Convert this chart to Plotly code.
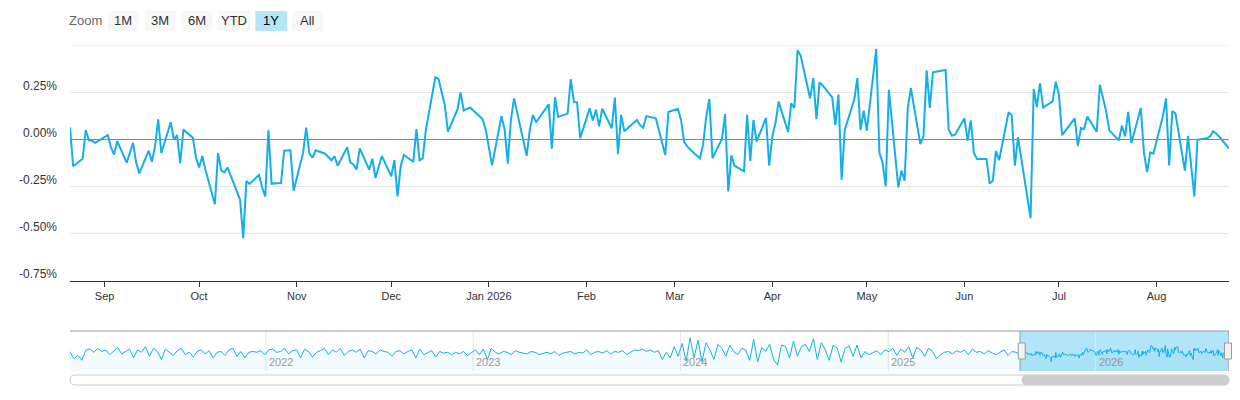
import pandas as pd
import plotly.graph_objects as go
from pandas.tseries.holiday import USFederalHolidayCalendar
from pandas.tseries.offsets import CustomBusinessDay

daily_change = [
    0.062, -0.145, -0.105, 0.048, -0.007, -0.009, -0.020, 0.021, -0.043, -0.083,
    -0.011, -0.126, -0.074, -0.020, -0.124, -0.183, -0.062, -0.121, -0.039, 0.105,
    -0.074, 0.089, -0.004, 0.021, -0.129, 0.050, 0.007, -0.099, -0.151, -0.090,
    -0.163, -0.347, -0.074, -0.167, -0.177, -0.151, -0.322, -0.527, -0.223, -0.239,
    -0.191, -0.257, -0.305, 0.046, -0.237, -0.234, -0.062, -0.060, -0.060, -0.275,
    -0.074, 0.060, -0.076, -0.099, -0.060, -0.078, -0.113, -0.092, -0.142, -0.043,
    -0.124, -0.135, -0.163, -0.050,
    -0.163, -0.105, -0.207, -0.090, -0.198, -0.112, -0.305, -0.145, -0.085, -0.121,
    0.053, -0.113, -0.103, 0.050, 0.328, 0.319, 0.250, 0.181, 0.039, 0.156,
    0.248, 0.152, 0.168, 0.121, 0.106, 0.050, -0.140, 0.121, 0.050, -0.131,
    0.103, 0.216, -0.004, -0.089, 0.050, 0.128, 0.089, 0.184, -0.051, 0.222,
    0.117, 0.135, 0.319, 0.197, 0.195, 0.005, 0.163, 0.099, 0.156, 0.067,
    0.161, 0.057, 0.220, -0.081, 0.129, 0.041, 0.101, 0.074, 0.060, 0.122,
    0.110, 0.046, -0.012,
    -0.085, 0.144, 0.161, 0.103, -0.016, -0.039, -0.057, -0.103, -0.030, 0.117,
    0.213, -0.101, 0.000, 0.133, -0.278, -0.087, -0.142, -0.172, 0.129, -0.117,
    0.101, -0.014, 0.112, -0.142, 0.014, 0.085, 0.199, 0.037, 0.190, 0.165,
    0.472, 0.443, 0.216, 0.324, 0.106, 0.301, 0.285, 0.222, 0.074, 0.236,
    -0.216, 0.050, 0.209, 0.324, 0.048, 0.151, 0.044, 0.479, -0.074, -0.124,
    -0.252, 0.262, -0.257, -0.168, -0.222, 0.165, 0.270, -0.027, 0.014, 0.365,
    0.165, 0.355, 0.367,
    0.050, 0.018, 0.023, 0.110, -0.009, 0.099, -0.074, -0.106, -0.106, -0.237,
    -0.222, -0.064, -0.113, 0.142, 0.126, -0.142, 0.009, -0.420, 0.266, 0.170,
    0.296, 0.167, 0.200, 0.305, 0.236, 0.021, 0.110, -0.037, 0.058, 0.053,
    0.119, 0.039, 0.289, 0.213, 0.147, 0.046, -0.007, 0.071, 0.014, 0.145,
    -0.021, 0.165, -0.074, -0.176, -0.071, -0.078, 0.121, 0.216, -0.140, 0.149,
    0.135, -0.168, 0.016, -0.145, -0.305, -0.004, 0.004, 0.014, 0.041, 0.028,
    0.011, -0.051,
]
trading_day = CustomBusinessDay(calendar=USFederalHolidayCalendar())
dates = pd.date_range("2025-08-21", periods=len(daily_change), freq=trading_day)

# weekly history shown only in the navigator (Jan 2021 - Aug 2025)
hist_change = [
    0.10, -0.35, -0.15, -0.45, 0.20, 0.25, 0.05, 0.30, 0.10, 0.20, -0.10, 0.15, 0.35, -0.05, 0.10, 0.25,
    -0.30, 0.20, 0.05, 0.40, -0.20, 0.30, 0.10, -0.40, 0.25, 0.05, -0.15, 0.15, 0.30, -0.10, 0.05, -0.25,
    0.10, 0.20, -0.05, 0.15, -0.30, 0.05, 0.10, -0.15, 0.20, 0.30, -0.20, 0.10, -0.30, 0.05,
    0.10, 0.05, 0.15, -0.10, 0.20, 0.25, 0.05, 0.10, 0.30, -0.05, 0.15, 0.20, -0.30, 0.25, 0.10, -0.25,
    0.05, 0.15, 0.30, -0.10, 0.20, 0.05, 0.30, -0.15, 0.10, 0.20, 0.05, 0.25, -0.30, 0.15, 0.10, -0.05,
    0.20, 0.10, 0.05, -0.20, 0.10, 0.15, -0.05, 0.10, 0.20, -0.30, 0.25, -0.10, 0.05, 0.15, -0.25, 0.10,
    0.00, 0.05, -0.10, 0.05,
    -0.05, 0.10, -0.15, 0.05, 0.20, -0.10, 0.25, -0.40, 0.30, 0.05, -0.05, 0.10, 0.05, -0.10, 0.15, 0.05,
    0.00, -0.05, 0.10, 0.05, -0.10, 0.00, 0.05, -0.05, 0.10, -0.15, 0.00, 0.05, 0.10, -0.05, 0.05, 0.00,
    0.20, -0.10, 0.05, 0.10, 0.00, 0.15, -0.05, 0.10, 0.05, 0.15, -0.10, 0.05, 0.20, 0.15, 0.25, 0.10,
    0.20, 0.05, 0.15, -0.40,
    0.05, -0.30, 0.40, -0.20, 0.60, -0.50, 0.95, -0.30, 0.80, -0.55, 0.65, 0.20, -0.40, 0.55, 0.30, -0.20,
    0.50, 0.10, -0.10, 0.30, 0.20, -0.45, 0.85, -0.55, 0.35, 0.10, 0.55, -0.40, -0.75, 0.50, 0.40, -0.30,
    0.75, -0.20, 0.40, 0.55, 0.10, 0.90, -0.40, 0.65, 0.20, -0.45, 0.50, 0.30, -0.55, 0.30, 0.45, -0.20,
    0.50, -0.30, 0.10, -0.10,
    0.05, 0.15, -0.10, 0.20, 0.10, 0.30, -0.15, 0.25, 0.05, 0.40, -0.30, 0.35, 0.20, -0.20, 0.30, 0.10,
    -0.35, -0.10, 0.05, 0.10, -0.05, 0.15, 0.05, 0.20, -0.10, 0.25, 0.05, 0.10, -0.05, 0.15, 0.00, -0.10,
    0.05, 0.20, -0.15, 0.10, 0.05, -0.05,
]
hist_dates = pd.date_range("2021-01-21", periods=len(hist_change), freq="7D")

month_ticks = pd.date_range("2025-09-01", "2026-08-01", freq="MS")
month_labels = [d.strftime("%b") if d.month != 1 else d.strftime("%b %Y") for d in month_ticks]
y_ticks = [-0.75, -0.5, -0.25, 0, 0.25, 0.5]
y_labels = ["-0.75%", "-0.50%", "-0.25%", "0.00%", "0.25%", ""]
nav_years = [2022, 2023, 2024, 2025, 2026]
buttons = ["1M", "3M", "6M", "YTD", "1Y", "All"]
button_px = [(104, 135), (141, 172), (178, 209), (215, 247), (252, 284), (289, 320)]

LINE = "#14aeea"
OFF = 8  # page body margin
L, R, T, B = 66 - OFF, 1229 - OFF, 45 - OFF, 371 - OFF
W, H = 1240 - OFF, 400 - OFF


def px(x):
    return (x - OFF - L) / (R - L)


def py(y):
    return (B - (y - OFF)) / (B - T)


nav_x = list(hist_dates) + list(dates)
nav_y = hist_change + daily_change
nav_lo, nav_hi = -1.12, 1.38

fig = go.Figure()
fig.add_trace(go.Scatter(x=dates, y=daily_change, mode="lines",
                         line=dict(color=LINE, width=2), xaxis="x", yaxis="y",
                         hovertemplate="%{x|%b %d, %Y}: %{y:.2f}%<extra></extra>"))
fig.add_trace(go.Scatter(x=[nav_x[0], nav_x[-1]], y=[nav_lo, nav_lo], mode="lines",
                         line=dict(width=0), xaxis="x2", yaxis="y2", hoverinfo="skip"))
fig.add_trace(go.Scatter(x=nav_x, y=nav_y, mode="lines", fill="tonexty",
                         fillcolor="rgba(20,174,234,0.05)",
                         line=dict(color=LINE, width=1), xaxis="x2", yaxis="y2", hoverinfo="skip"))

shapes = []
annotations = []
# top gridline of the main pane
shapes.append(dict(type="line", xref="paper", yref="y", x0=0, x1=1, y0=0.5, y1=0.5,
                   line=dict(color="#e6e6e6", width=1), layer="below"))
# navigator selection
shapes.append(dict(type="rect", xref="x2", yref="y2", x0=dates[0], x1=nav_x[-1], y0=nav_lo, y1=nav_hi,
                   fillcolor="rgba(102,204,240,0.5)", line=dict(width=0), layer="below"))
shapes.append(dict(type="line", xref="paper", yref="paper", x0=0, x1=1, y0=py(331), y1=py(331),
                   line=dict(color="#999", width=1)))
for d in [dates[0], nav_x[-1]]:
    shapes.append(dict(type="line", xref="x2", yref="y2", x0=d, x1=d, y0=nav_lo, y1=nav_hi,
                       line=dict(color="#999", width=1)))
for xe in [px(1021), px(1228)]:
    shapes.append(dict(type="rect", xref="paper", yref="paper", x0=xe - 3.5 / 1163, x1=xe + 3.5 / 1163,
                       y0=py(359), y1=py(343), fillcolor="#f2f2f2", line=dict(color="#999", width=1)))
for yr in nav_years:
    d = pd.Timestamp(f"{yr}-01-01")
    shapes.append(dict(type="line", xref="x2", yref="y2", x0=d, x1=d, y0=nav_lo, y1=nav_hi,
                       line=dict(color="#e6e6e6", width=1), layer="below"))
    annotations.append(dict(x=d, y=nav_lo, xref="x2", yref="y2", text=str(yr), showarrow=False,
                            xanchor="left", yanchor="bottom", xshift=1, yshift=1,
                            font=dict(size=11, color="#999")))
# scrollbar
shapes.append(dict(type="path", xref="paper", yref="paper",
                   path=f"M {px(71)},{py(375)} L {px(1224)},{py(375)} Q 1.0,{py(375)} 1.0,{py(380)} "
                        f"Q 1.0,{py(385)} {px(1224)},{py(385)} L {px(71)},{py(385)} "
                        f"Q 0,{py(385)} 0,{py(380)} Q 0,{py(375)} {px(71)},{py(375)} Z",
                   fillcolor="#ffffff", line=dict(color="#ccc", width=1)))
shapes.append(dict(type="path", xref="paper", yref="paper",
                   path=f"M {px(1026)},{py(375)} L {px(1224)},{py(375)} Q 1.0,{py(375)} 1.0,{py(380)} "
                        f"Q 1.0,{py(385)} {px(1224)},{py(385)} L {px(1026)},{py(385)} "
                        f"Q {px(1021)},{py(385)} {px(1021)},{py(380)} Q {px(1021)},{py(375)} {px(1026)},{py(375)} Z",
                   fillcolor="#cccccc", line=dict(width=0)))
# zoom buttons
annotations.append(dict(x=px(63), y=py(21), xref="paper", yref="paper", text="Zoom", showarrow=False,
                        xanchor="left", yanchor="middle", font=dict(size=13, color="#666")))
for lab, (x0, x1) in zip(buttons, button_px):
    active = lab == "1Y"
    shapes.append(dict(type="rect", xref="paper", yref="paper", x0=px(x0), x1=px(x1), y0=py(31), y1=py(11),
                       fillcolor="#b5e6f8" if active else "#f7f7f7", line=dict(width=0)))
    annotations.append(dict(x=px((x0 + x1) / 2), y=py(21), xref="paper", yref="paper", text=lab,
                            showarrow=False, xanchor="center", yanchor="middle",
                            font=dict(size=13, color="#000" if active else "#333")))

fig.update_layout(
    width=W, height=H,
    margin=dict(l=L, r=W - R, t=T, b=H - B),
    paper_bgcolor="white", plot_bgcolor="white",
    showlegend=False,
    font=dict(family="Liberation Sans, Arial, sans-serif", color="#333"),
    xaxis=dict(domain=[0, 1], range=[dates[0], dates[-1]], tickvals=month_ticks, ticktext=month_labels,
               showgrid=False, showline=True, linecolor="#333", linewidth=1, ticks="outside",
               tickcolor="#333", ticklen=5, tickfont=dict(size=11, color="#333"), anchor="y"),
    yaxis=dict(domain=[(371 - 281) / (371 - 45), 1], range=[-0.755, 0.5], tickvals=y_ticks, ticktext=y_labels,
               gridcolor="#e6e6e6", zeroline=True, zerolinecolor="#7b8696", zerolinewidth=1,
               tickfont=dict(size=12, color="#333"), ticklabelstandoff=12, ticklabelshift=-6),
    xaxis2=dict(domain=[0, 1], range=[nav_x[0], nav_x[-1]], showticklabels=False, showgrid=False,
                zeroline=False, anchor="y2"),
    yaxis2=dict(domain=[0, 40 / 326], range=[nav_lo, nav_hi], showticklabels=False,
                showgrid=False, zeroline=False),
    shapes=shapes, annotations=annotations,
)

fig.write_html("out.html")
